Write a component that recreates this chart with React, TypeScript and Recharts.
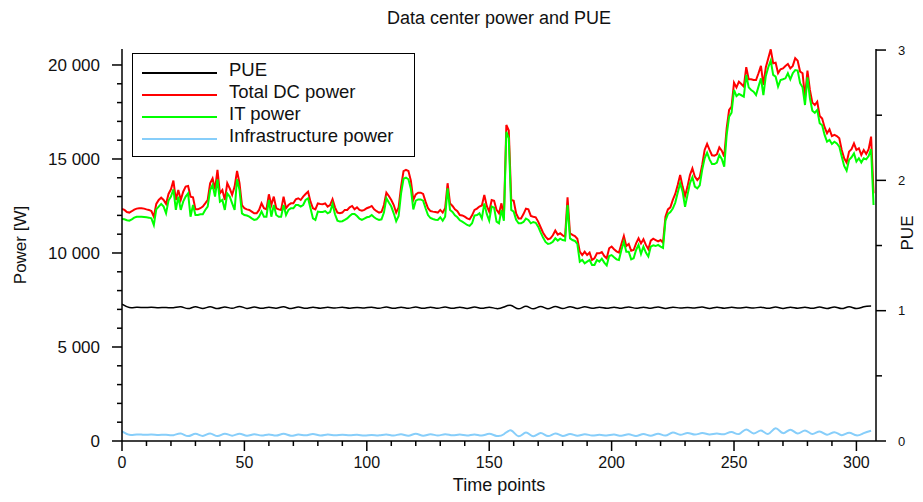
import { LineChart, Line, XAxis, YAxis, Legend } from "recharts";

// time points 0..307
const totalPower = [
  12340, 12290, 12180, 12150, 12220, 12310, 12360, 12380, 12380, 12360,
  12320, 12290, 12230, 11930, 12610, 12820, 12940, 12820, 12610, 13140,
  13390, 13850, 12820, 13350, 12820, 13260, 13530, 13560, 13000, 12960,
  12320, 12320, 12380, 12470, 12640, 12820, 13710, 13970, 13390, 14420,
  13170, 13350, 12820, 13710, 13440, 13090, 13530, 14360, 13710, 12550,
  12380, 12320, 12290, 12200, 12110, 12110, 12290, 12640, 12380, 12320,
  13120, 12550, 13000, 12380, 12320, 12290, 13000, 12380, 12550, 12640,
  12640, 12860, 12910, 12820, 13000, 13140, 13260, 12730, 12380, 12320,
  12640, 12610, 12590, 12640, 12470, 12550, 12860, 12430, 12150, 12110,
  12150, 12290, 12290, 12430, 12500, 12320, 12430, 12290, 12250, 12290,
  12380, 12430, 12500, 12320, 12220, 12150, 12180, 12550, 13210, 13030,
  12820, 12550, 12150, 12430, 13530, 14350, 14420, 14360, 13850, 12820,
  13120, 13210, 13210, 13140, 12730, 12380, 12230, 12200, 12180, 12150,
  12290, 12150, 12380, 13710, 12640, 12500, 12320, 12220, 12020, 12000,
  11930, 11840, 11790, 12000, 12290, 12360, 12470, 12530, 13090, 12500,
  12200, 12820, 12780, 12290, 12110, 12640, 11930, 16810, 16510, 12820,
  12780, 12110, 11840, 11840, 12070, 12360, 12320, 11970, 11930, 11900,
  11670, 11370, 11080, 10870, 10730, 10780, 10940, 11190, 10980, 11050,
  10940, 10870, 12960, 11050, 10960, 10900, 10760, 10070, 9890, 10070,
  9890, 10020, 9630, 9720, 9980, 9980, 10050, 9840, 9720, 10250,
  10340, 10200, 10090, 10020, 10480, 10900, 10370, 10480, 10120, 10160,
  10510, 10780, 10510, 10730, 10430, 10200, 10660, 10760, 10690, 10620,
  10690, 10550, 11930, 12320, 12430, 12820, 13140, 13620, 14150, 13530,
  13030, 13530, 14150, 14500, 14060, 13880, 14030, 14680, 15480, 15800,
  15480, 15200, 15180, 15250, 15620, 15440, 15130, 16630, 17610, 17780,
  19060, 18810, 19110, 18990, 18850, 19880, 19240, 19240, 19200, 19200,
  19560, 19950, 18940, 19880, 20360, 20830, 20090, 20120, 19560, 19770,
  19820, 19950, 20050, 19820, 19950, 20360, 20230, 19650, 19560, 18280,
  19700, 18670, 18000, 17870, 18050, 17290, 17150, 16690, 16370, 16580,
  16220, 16280, 16220, 16100, 15480, 15040, 14810, 15390, 15520, 15830,
  15480, 15570, 15210, 15480, 15270, 15520, 16190, 13170,
];

const itPower = [
  11810, 11790, 11740, 11720, 11790, 11880, 11930, 11930, 11930, 11920,
  11900, 11880, 11840, 11490, 12320, 12470, 12610, 12470, 12110, 12790,
  13000, 13390, 12290, 13000, 12290, 12730, 13000, 13170, 11930, 12550,
  12020, 12020, 12060, 12060, 12290, 12470, 13350, 13620, 13000, 13920,
  12730, 12820, 12290, 13170, 13000, 12640, 12290, 13920, 13350, 12110,
  12020, 11990, 11930, 11840, 11760, 11790, 11930, 12200, 11930, 11930,
  12820, 11930, 12550, 12020, 11930, 11930, 12550, 12020, 12290, 12380,
  12380, 12550, 12550, 12470, 12550, 12820, 12910, 12380, 11840, 11760,
  12200, 12180, 12180, 12230, 12110, 12180, 12610, 12060, 11720, 11670,
  11690, 11760, 11840, 11970, 12080, 12080, 11970, 11830, 11760, 11830,
  11900, 11930, 12020, 11900, 11810, 11760, 11790, 12150, 12910, 12680,
  12470, 12110, 11690, 11970, 13170, 13950, 14010, 13920, 13420, 12320,
  12780, 12850, 12850, 12780, 12380, 12020, 11860, 11810, 11770, 11760,
  11900, 11720, 11930, 13440, 12290, 12180, 12000, 11900, 11740, 11670,
  11580, 11490, 11440, 11580, 11990, 12020, 12110, 11840, 12640, 12080,
  11720, 12470, 12410, 11670, 11580, 12290, 11720, 16450, 16100, 12290,
  12200, 11760, 11580, 11580, 11650, 11830, 11760, 11580, 11650, 11610,
  11400, 11100, 10820, 10590, 10480, 10510, 10600, 10780, 10660, 10760,
  10690, 10660, 12550, 10780, 10690, 10640, 10480, 9540, 9630, 9450,
  9540, 9630, 9360, 9360, 9630, 9540, 9700, 9490, 9340, 9840,
  9890, 9770, 9660, 9630, 10160, 10600, 10070, 10070, 9660, 9720,
  10160, 10430, 9950, 10340, 10020, 9810, 10340, 10410, 10370, 10430,
  10340, 10270, 11720, 12070, 12180, 12360, 12680, 13210, 13710, 13260,
  12460, 13090, 13710, 14030, 13530, 13440, 13600, 14420, 15040, 15340,
  14980, 14730, 14730, 14810, 15210, 15000, 14590, 16280, 17250, 17460,
  18670, 18350, 18460, 18390, 18320, 19470, 18810, 18670, 18580, 18400,
  18850, 19290, 18400, 19420, 19880, 20230, 19470, 19380, 18850, 19200,
  19240, 19290, 19560, 19240, 19560, 19730, 19700, 19030, 18810, 17870,
  19340, 18230, 17570, 17460, 17610, 16900, 16790, 16280, 15920, 16010,
  15800, 15920, 15830, 15660, 15130, 14630, 14380, 14950, 15090, 15300,
  14860, 15040, 14810, 15040, 14980, 15160, 15520, 12550,
];

// PUE and infrastructure power, one value every 3rd time point (0, 3, ... 306)
const smoothStep = 3;

const pueValues = [
  1.05, 1.024, 1.026, 1.024, 1.026, 1.023, 1.025, 1.022, 1.03, 1.016,
  1.03, 1.017, 1.03, 1.016, 1.029, 1.018, 1.033, 1.017, 1.028, 1.018,
  1.026, 1.019, 1.03, 1.016, 1.028, 1.018, 1.027, 1.019, 1.026, 1.02,
  1.027, 1.019, 1.025, 1.021, 1.027, 1.019, 1.028, 1.018, 1.027, 1.019,
  1.028, 1.018, 1.027, 1.019, 1.028, 1.018, 1.027, 1.017, 1.028, 1.018,
  1.027, 1.016, 1.028, 1.04, 1.014, 1.034, 1.014, 1.033, 1.015, 1.032,
  1.016, 1.031, 1.017, 1.03, 1.018, 1.027, 1.019, 1.027, 1.019, 1.029,
  1.018, 1.027, 1.019, 1.029, 1.017, 1.027, 1.02, 1.025, 1.021, 1.029,
  1.017, 1.027, 1.019, 1.026, 1.02, 1.026, 1.02, 1.027, 1.018, 1.028,
  1.017, 1.027, 1.019, 1.026, 1.018, 1.028, 1.016, 1.029, 1.016, 1.03,
  1.016, 1.03, 1.036,
];

const infraPower = [
  520, 330, 350, 330, 340, 320, 330, 310, 400, 260,
  380, 270, 400, 260, 390, 280, 390, 280, 360, 290,
  350, 290, 380, 280, 340, 300, 370, 290, 340, 300,
  330, 300, 330, 290, 320, 300, 350, 290, 360, 280,
  380, 280, 360, 290, 360, 300, 340, 290, 350, 290,
  380, 270, 360, 560, 250, 450, 250, 420, 260, 400,
  270, 370, 280, 360, 290, 330, 290, 340, 280, 360,
  270, 370, 280, 390, 290, 450, 330, 430, 340, 420,
  350, 400, 360, 480, 370, 610, 400, 560, 380, 680,
  420, 600, 400, 560, 370, 510, 330, 470, 310, 440,
  300, 420, 540,
];

const seriesNames = ["PUE", "Total DC power", "IT power", "Infrastructure power"];
const seriesColors = ["#000000", "#ff0000", "#00ff00", "#87cefa"];

const timeTicks = Array.from({ length: 31 }, (_, i) => i * 10);
const powerTicks = Array.from({ length: 21 }, (_, i) => i * 1000);
const pueTicks = [0, 0.5, 1, 1.5, 2, 2.5, 3];

const powerData = totalPower.map((total, i) => ({ t: i, total, it: itPower[i] }));
const smoothData = pueValues.map((pue, i) => ({ t: i * smoothStep, pue, infra: infraPower[i] }));

const FONT = "'Liberation Sans', Arial, sans-serif";
const INK = "#111";

function formatPower(v: number) {
  if (v === 0) return "0";
  return `${v / 1000}\u00a0000`;
}

function PowerTick({ x, y, payload }: any) {
  const major = payload.value % 5000 === 0;
  return (
    <g>
      <line x1={x} x2={x - (major ? 10 : 5)} y1={y} y2={y} stroke="#000" strokeWidth={1.5} />
      {major && (
        <text x={x - 22} y={y} dy="0.36em" textAnchor="end" fontSize={17} fill={INK} fontFamily={FONT}>
          {formatPower(payload.value)}
        </text>
      )}
    </g>
  );
}

function PueTick({ x, y, payload }: any) {
  const major = Number.isInteger(payload.value);
  return (
    <g>
      <line x1={x} x2={x + (major ? 10 : 6)} y1={y} y2={y} stroke="#000" strokeWidth={1.5} />
      {major && (
        <text x={x + 22} y={y} dy="0.36em" textAnchor="start" fontSize={13} fill={INK} fontFamily={FONT}>
          {payload.value}
        </text>
      )}
    </g>
  );
}

function TimeTick({ x, y, payload }: any) {
  const major = payload.value % 50 === 0;
  return (
    <g>
      <line x1={x} x2={x} y1={y} y2={y + (major ? 10 : 5)} stroke="#000" strokeWidth={1.5} />
      {major && (
        <text x={x} y={y + 16} dy="0.71em" textAnchor="middle" fontSize={16} fill={INK} fontFamily={FONT}>
          {payload.value}
        </text>
      )}
    </g>
  );
}

function LegendBox() {
  return (
    <div
      style={{
        width: 283,
        height: 104,
        boxSizing: "border-box",
        border: "1.5px solid #000",
        background: "#fff",
        position: "relative",
        fontFamily: FONT,
        fontSize: 18.5,
        color: INK,
      }}
    >
      {seriesNames.map((name, i) => (
        <div
          key={name}
          style={{ position: "absolute", left: 0, top: 5 + i * 22, height: 22, display: "flex", alignItems: "center" }}
        >
          <div style={{ marginLeft: 9, width: 75, height: 2, marginTop: 6, background: seriesColors[i] }} />
          <span style={{ marginLeft: 12, lineHeight: "22px", whiteSpace: "nowrap" }}>{name}</span>
        </div>
      ))}
    </div>
  );
}

export default function App() {
  return (
    <div style={{ position: "relative", width: 923, height: 502, background: "#fff", fontFamily: FONT }}>
      <style>{`body { margin: 0; }`}</style>
      <div
        style={{
          position: "absolute",
          left: 122,
          width: 754,
          top: 8,
          textAlign: "center",
          fontSize: 18,
          color: INK,
        }}
      >
        Data center power and PUE
      </div>
      <LineChart width={923} height={502} margin={{ top: 49, right: 0, bottom: 0, left: 0 }}>
        <XAxis
          dataKey="t"
          type="number"
          domain={[0, 308]}
          ticks={timeTicks}
          interval={0}
          allowDataOverflow
          height={61}
          tickSize={0}
          tickMargin={0}
          tick={<TimeTick />}
          axisLine={{ stroke: "#000", strokeWidth: 1.5 }}
          label={(p: any) => {
            const vb = p.viewBox;
            return (
              <text x={vb.x + vb.width / 2} y={vb.y + 50} textAnchor="middle" fontSize={18} fill={INK} fontFamily={FONT}>
                Time points
              </text>
            );
          }}
        />
        <YAxis
          yAxisId="power"
          type="number"
          domain={[0, 20850]}
          ticks={powerTicks}
          interval={0}
          allowDataOverflow
          width={122}
          tickSize={0}
          tickMargin={0}
          tick={<PowerTick />}
          axisLine={{ stroke: "#000", strokeWidth: 1.5 }}
          label={(p: any) => {
            const vb = p.viewBox;
            const cx = vb.x + 20;
            const cy = vb.y + vb.height / 2;
            return (
              <text x={cx} y={cy} transform={`rotate(-90 ${cx} ${cy})`} dy="0.36em" textAnchor="middle" fontSize={17} fill={INK} fontFamily={FONT}>
                Power [W]
              </text>
            );
          }}
        />
        <YAxis
          yAxisId="pue"
          orientation="right"
          type="number"
          domain={[0, 3.008]}
          ticks={pueTicks}
          interval={0}
          allowDataOverflow
          width={47}
          tickSize={0}
          tickMargin={0}
          tick={<PueTick />}
          axisLine={{ stroke: "#000", strokeWidth: 1.5 }}
          label={(p: any) => {
            const vb = p.viewBox;
            const cx = vb.x + 31;
            const cy = vb.y + vb.height / 2 - 12;
            return (
              <text x={cx} y={cy} transform={`rotate(-90 ${cx} ${cy})`} dy="0.36em" textAnchor="middle" fontSize={17} fill={INK} fontFamily={FONT}>
                PUE
              </text>
            );
          }}
        />
        <Legend
          layout="vertical"
          align="center"
          verticalAlign="middle"
          wrapperStyle={{ left: 132, top: 53, width: 283 }}
          content={() => <LegendBox />}
        />
        <Line
          yAxisId="pue"
          data={smoothData}
          dataKey="pue"
          name={seriesNames[0]}
          type="natural"
          stroke={seriesColors[0]}
          strokeWidth={1.5}
          dot={false}
          activeDot={false}
          isAnimationActive={false}
        />
        <Line
          yAxisId="power"
          data={powerData}
          dataKey="total"
          name={seriesNames[1]}
          type="linear"
          stroke={seriesColors[1]}
          strokeWidth={2}
          dot={false}
          activeDot={false}
          isAnimationActive={false}
        />
        <Line
          yAxisId="power"
          data={powerData}
          dataKey="it"
          name={seriesNames[2]}
          type="linear"
          stroke={seriesColors[2]}
          strokeWidth={2}
          dot={false}
          activeDot={false}
          isAnimationActive={false}
        />
        <Line
          yAxisId="power"
          data={smoothData}
          dataKey="infra"
          name={seriesNames[3]}
          type="natural"
          stroke={seriesColors[3]}
          strokeWidth={2}
          dot={false}
          activeDot={false}
          isAnimationActive={false}
        />
      </LineChart>
    </div>
  );
}
